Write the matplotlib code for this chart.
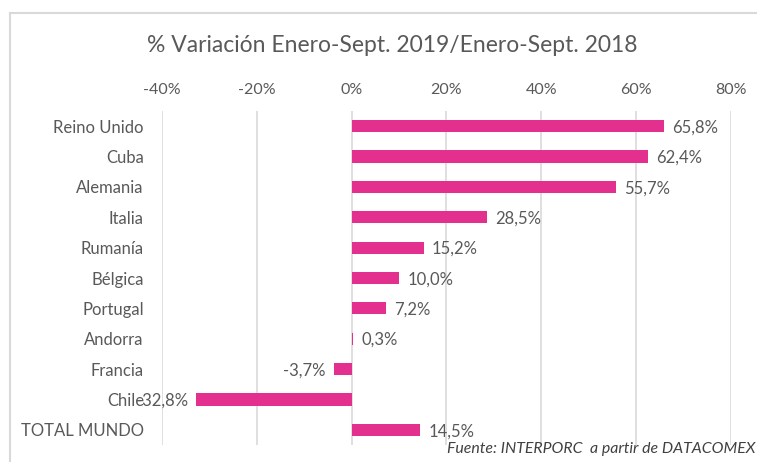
import matplotlib
matplotlib.use("Agg")
import matplotlib.pyplot as plt
from matplotlib.lines import Line2D
from matplotlib.ticker import FuncFormatter

plt.rcParams['font.family'] = ['Lato', 'DejaVu Sans']

paises = ["Reino Unido", "Cuba", "Alemania", "Italia", "Rumanía", "Bélgica",
          "Portugal", "Andorra", "Francia", "Chile", "TOTAL MUNDO"]
variacion = [65.8, 62.4, 55.7, 28.5, 15.2, 10.0, 7.2, 0.3, -3.7, -32.8, 14.5]
ticks = [-40, -20, 0, 20, 40, 60, 80]

BAR = "#E3308E"
TXT = "#595959"
GRID = "#D9D9D9"

W, H = 757, 462
fig = plt.figure(figsize=(W / 100, H / 100), dpi=100)

# chart-area frame
fig.add_artist(Line2D([10 / W, 10 / W], [0, 1 - 13 / H], transform=fig.transFigure,
                      color=GRID, lw=1.5))
fig.add_artist(Line2D([10 / W, 1], [1 - 13 / H, 1 - 13 / H], transform=fig.transFigure,
                      color=GRID, lw=1.5))

ax = fig.add_axes([162 / W, 1 - 445 / H, (731 - 162) / W, (445 - 111) / H])
y = list(range(len(paises)))
ax.barh(y, variacion, height=0.4, color=BAR, zorder=3)

ax.set_xlim(-40, 80)
ax.set_ylim(len(paises) - 0.5, -0.5)
ax.set_xticks(ticks)
ax.xaxis.set_major_formatter(FuncFormatter(lambda v, p: f"{v:.0f}%"))
ax.xaxis.tick_top()
ax.tick_params(axis='x', length=0, pad=10, labelsize=11.5, labelcolor=TXT)
ax.set_yticks(y)
ax.set_yticklabels(paises)
ax.tick_params(axis='y', length=0, pad=13, labelsize=12, labelcolor=TXT)
ax.grid(axis='x', color=GRID, lw=1.2, zorder=0)
for s in ax.spines.values():
    s.set_visible(False)

for yi, v in zip(y, variacion):
    lbl = f"{v:.1f}%".replace(".", ",")
    if v >= 0:
        ax.annotate(lbl, (v, yi), xytext=(6, -1), textcoords="offset points",
                    ha="left", va="center", fontsize=12, color=TXT)
    else:
        ax.annotate(lbl, (v, yi), xytext=(-6, -1), textcoords="offset points",
                    ha="right", va="center", fontsize=12, color=TXT)

fig.text(392 / W, 1 - 45 / H, "% Variación Enero-Sept. 2019/Enero-Sept. 2018",
         ha="center", va="center", fontsize=16.5, color=TXT)
fig.text(755 / W, 1 - 449 / H, "Fuente: INTERPORC  a partir de DATACOMEX",
         ha="right", va="center", fontsize=11.4, style="italic", color="#404040")

fig.savefig("out.png", dpi=100)
